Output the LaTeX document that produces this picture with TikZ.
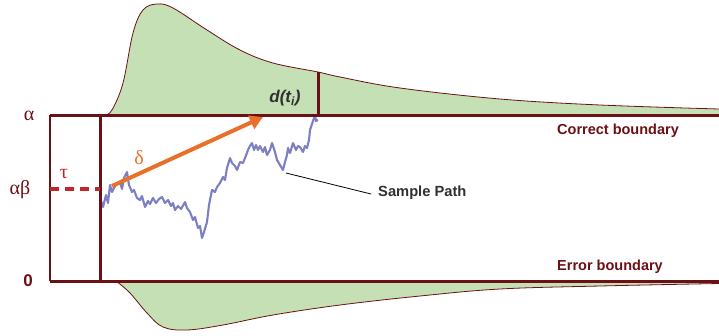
\documentclass[tikz,border=0pt]{standalone}
\usepackage{fontspec}
\setmainfont{Liberation Serif}
\setsansfont{Liberation Sans}
\usetikzlibrary{arrows.meta}
\definecolor{bdry}{HTML}{6B1015}
\definecolor{dens}{HTML}{C5E0B4}
\definecolor{orng}{HTML}{E8702A}
\definecolor{pathc}{HTML}{7C7FC3}
\definecolor{taured}{HTML}{C0272D}
\definecolor{txtg}{HTML}{303030}
\tikzset{
  bline/.style={draw=bdry, line width=3pt},
  densfill/.style={fill=dens},
  densedge/.style={draw=bdry, line width=0.8pt},
  greek/.style={text=bdry, font=\fontsize{20}{22}\selectfont, inner sep=0pt},
  blabel/.style={text=bdry, font=\sffamily\bfseries\fontsize{14.5}{16}\selectfont, inner sep=0pt},
  plabel/.style={text=txtg, font=\sffamily\bfseries\fontsize{14.7}{16}\selectfont, inner sep=0pt},
}
\begin{document}
\begin{tikzpicture}[x=1pt,y=-1pt]
\useasboundingbox (0,0) rectangle (719,335);
% upper density
\fill[densfill] (105,115) -- plot[smooth,tension=0.6] coordinates {(105,115) (112,110) (123,83) (133,33) (143,10) (157,4) (173,8) (207,30) (240,50) (273,63) (318,72) (340,77) (400,88) (500,99) (600,105) (719,109)} -- (719,115) -- cycle;
\draw[densedge] plot[smooth,tension=0.6] coordinates {(105,115) (112,110) (123,83) (133,33) (143,10) (157,4) (173,8) (207,30) (240,50) (273,63) (318,72) (340,77) (400,88) (500,99) (600,105) (719,109)};
% lower density
\fill[densfill] (112,281) -- plot[smooth,tension=0.6] coordinates {(112,281) (117,282) (130,293) (147,313) (163,327) (187,330) (223,325) (273,315) (340,305) (420,296) (500,289) (600,286) (719,283.5)} -- (719,281) -- cycle;
\draw[densedge] plot[smooth,tension=0.6] coordinates {(112,281) (117,282) (130,293) (147,313) (163,327) (187,330) (223,325) (273,315) (340,305) (420,296) (500,289) (600,286) (719,283.5)};
% coordinates
\coordinate (tl) at (50,115);
\coordinate (tr) at (719,115);
\coordinate (bl) at (50,281);
\coordinate (br) at (719,281);
\coordinate (vt) at (100,115);
\coordinate (vb) at (100,281);
\coordinate (dtop) at (318,72);
\coordinate (dbot) at (318,115);
\coordinate (dl) at (50,189);
\coordinate (dr) at (100,189);
% sample path
\draw[pathc, line width=2.1pt, line join=round] plot coordinates {
(100,198) (103,207) (106,195) (108,203) (110,185) (112,192) (114,188) (117,183) (120,182) (122,189) (124,178) (127,172) (129,185) (132,192) (134,190) (137,198) (140,200) (142,196) (145,207) (148,201) (150,204) (153,198) (156,203) (159,199) (162,197) (165,203) (168,200) (171,206) (173,203) (175,210) (178,206) (181,209) (185,202) (187,208) (190,212) (193,220) (195,217) (198,228) (200,226) (202,238) (204,232) (207,222) (209,205) (211,195) (212,190) (215,192) (217,187) (220,183) (223,177) (225,180) (227,168) (230,158) (232,163) (235,166) (237,170) (240,162) (243,163) (245,158) (248,150) (250,146) (252,143) (254,150) (256,145) (258,150) (260,146) (263,152) (265,147) (267,155) (270,150) (272,143) (275,152) (277,160) (280,165) (283,170) (285,162) (287,155) (288,148) (290,153) (293,143) (296,150) (298,146) (300,147) (303,152) (305,146) (307,148) (309,140) (310,130) (312,124) (314,118) (315,115) (316,121) (318,120)};
% boundaries
\draw[bline] (tl) -- (tr);
\draw[bline] (bl) -- (br);
\draw[draw=bdry, line width=2pt] (tl) -- (bl);
\draw[bline] (vt) -- (vb);
\draw[bline] (dtop) -- (dbot);
\draw[taured, line width=3.5pt, dash pattern=on 9pt off 6pt] (dl) -- (dr);
% orange arrow
\coordinate (as) at (112,186);
\coordinate (ae) at (263,117);
\draw[orng, line width=4pt, -{Triangle[length=13pt,width=14pt]}] (as) -- (ae);
% labels
\node[greek] (alpha) at (29,116) {α};
\node[greek] (alphabeta) at (20,190) {αβ};
\node[text=bdry, font=\sffamily\bfseries\fontsize{17}{19}\selectfont, inner sep=0pt] (zero) at (28,281) {0};
\node[text=taured, font=\fontsize{20}{22}\selectfont, inner sep=0pt] (tau) at (64,174) {τ};
\node[text=orng, font=\fontsize{20}{22}\selectfont, inner sep=0pt] (delta) at (139,158) {δ};
\node[text=txtg, font=\sffamily\bfseries\itshape\fontsize{17}{19}\selectfont, inner sep=0pt] (dti) at (285,98) {d(t\textsubscript{\fontsize{12}{12}\selectfont i})};
\node[blabel] (correct) at (618,131) {Correct boundary};
\node[blabel] (error) at (610,267) {Error boundary};
\node[plabel, anchor=west] (sample) at (378,193) {Sample Path};
\coordinate (sp) at (286,173);
\draw[black, line width=0.8pt] (sp) -- ([xshift=-7pt,yshift=-1pt]sample.west);
\end{tikzpicture}
\end{document}
